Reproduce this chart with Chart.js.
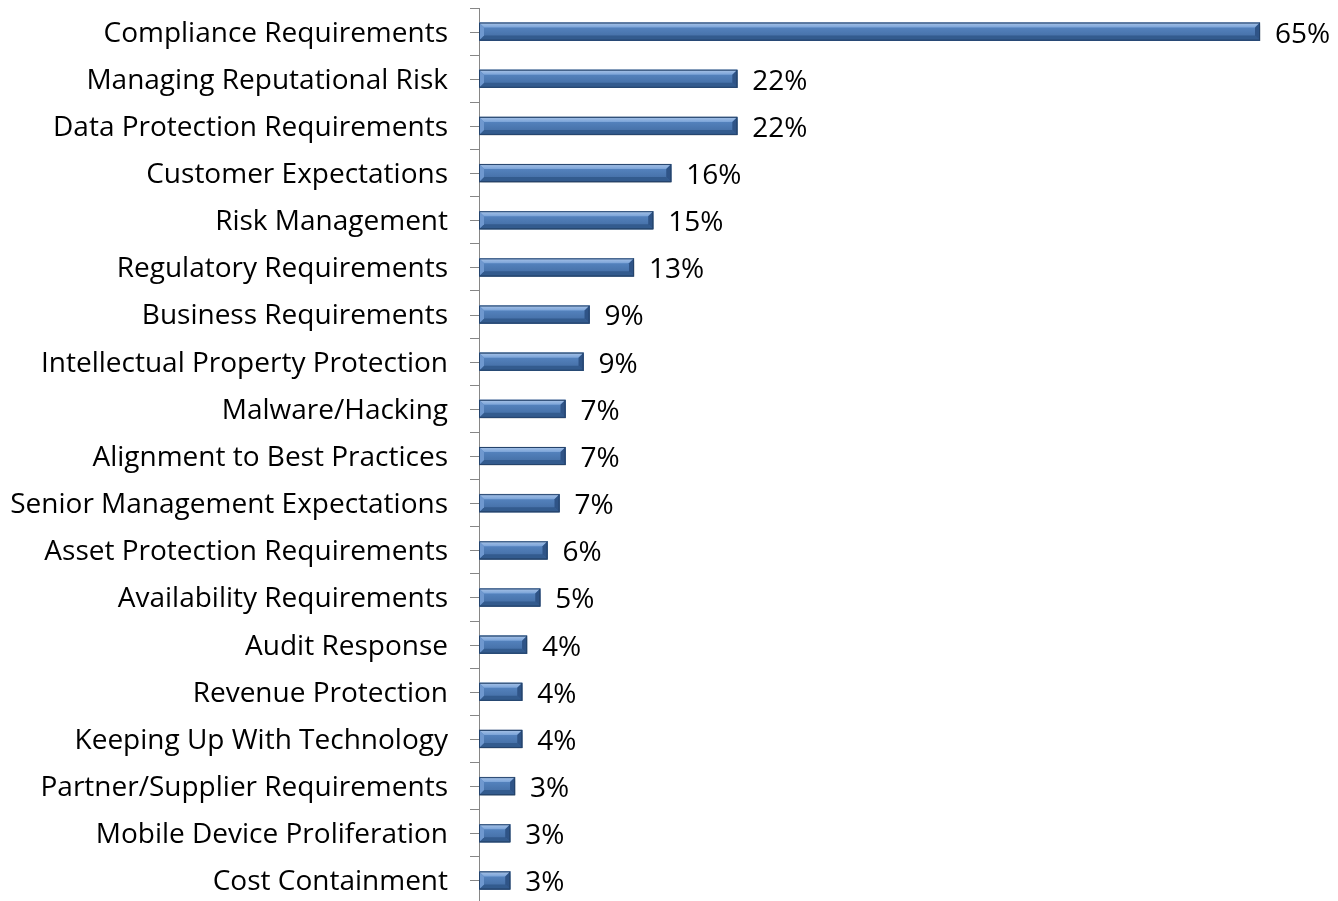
<!DOCTYPE html>
<html>
<head>
<meta charset="utf-8">
<title>Drivers</title>
<script src="https://cdn.jsdelivr.net/npm/chart.js@4.4.1/dist/chart.umd.min.js"></script>
<style>
    html, body { margin: 0; padding: 0; background: #fff; overflow: hidden; }
    canvas { display: block; }
</style>
</head>
<body>
<canvas id="driverChart" width="1338" height="904"></canvas>
<script>
// Categories, top to bottom
const categories = [
    'Compliance Requirements',
    'Managing Reputational Risk',
    'Data Protection Requirements',
    'Customer Expectations',
    'Risk Management',
    'Regulatory Requirements',
    'Business Requirements',
    'Intellectual Property Protection',
    'Malware/Hacking',
    'Alignment to Best Practices',
    'Senior Management Expectations',
    'Asset Protection Requirements',
    'Availability Requirements',
    'Audit Response',
    'Revenue Protection',
    'Keeping Up With Technology',
    'Partner/Supplier Requirements',
    'Mobile Device Proliferation',
    'Cost Containment'
];

// Percent values
const percents = [65, 21.5, 21.5, 16, 14.5, 12.9, 9.2, 8.7, 7.2, 7.2, 6.7, 5.7, 5.1, 4.0, 3.6, 3.6, 3.0, 2.6, 2.6];

const labelFont = { family: 'Open Sans', size: 28 };

// Draws ticks at the category centres as well as the boundaries
const centerTicks = {
    id: 'centerTicks',
    afterDraw(chart) {
        const ctx = chart.ctx;
        const yScale = chart.scales.y;
        const x = chart.chartArea.left;
        ctx.save();
        ctx.strokeStyle = '#868686';
        ctx.lineWidth = 1;
        for (let i = 0; i < categories.length; i++) {
            const y = Math.round(yScale.getPixelForTick(i)) + 0.5;
            ctx.beginPath();
            ctx.moveTo(x - 9, y);
            ctx.lineTo(x, y);
            ctx.stroke();
        }
        ctx.restore();
    }
};

// Shadow under the bars
const barShadow = {
    id: 'barShadow',
    beforeDatasetDraw(chart) {
        const ctx = chart.ctx;
        ctx.save();
        ctx.shadowColor = 'rgba(0,0,0,0.35)';
        ctx.shadowBlur = 4;
        ctx.shadowOffsetX = 1;
        ctx.shadowOffsetY = 3;
    },
    afterDatasetDraw(chart) {
        chart.ctx.restore();
    }
};

// Bevel look on the bars and value labels
const bevelAndLabels = {
    id: 'bevelAndLabels',
    afterDatasetsDraw(chart) {
        const ctx = chart.ctx;
        const meta = chart.getDatasetMeta(0);
        ctx.save();
        meta.data.forEach((bar, i) => {
            const p = bar.getProps(['x', 'y', 'base', 'height'], true);
            const left = p.base;
            const right = p.x;
            const top = p.y - p.height / 2;
            const bottom = p.y + p.height / 2;
            const b = 5;

            // middle face
            const g = ctx.createLinearGradient(0, top, 0, bottom);
            g.addColorStop(0, '#5b8bc8');
            g.addColorStop(1, '#40699f');
            ctx.fillStyle = g;
            ctx.fillRect(left, top, right - left, bottom - top);

            // top bevel
            const gt = ctx.createLinearGradient(0, top, 0, top + b);
            gt.addColorStop(0, '#a9c4e8');
            gt.addColorStop(1, '#7aa3d8');
            ctx.fillStyle = gt;
            ctx.beginPath();
            ctx.moveTo(left, top);
            ctx.lineTo(right, top);
            ctx.lineTo(right - b, top + b);
            ctx.lineTo(left + b, top + b);
            ctx.closePath();
            ctx.fill();

            // bottom bevel
            ctx.fillStyle = '#335b8e';
            ctx.beginPath();
            ctx.moveTo(left, bottom);
            ctx.lineTo(right, bottom);
            ctx.lineTo(right - b, bottom - b);
            ctx.lineTo(left + b, bottom - b);
            ctx.closePath();
            ctx.fill();

            // right bevel
            ctx.fillStyle = '#2f5487';
            ctx.beginPath();
            ctx.moveTo(right, top);
            ctx.lineTo(right, bottom);
            ctx.lineTo(right - b, bottom - b);
            ctx.lineTo(right - b, top + b);
            ctx.closePath();
            ctx.fill();

            // left bevel
            ctx.fillStyle = '#6f98cf';
            ctx.beginPath();
            ctx.moveTo(left, top);
            ctx.lineTo(left, bottom);
            ctx.lineTo(left + b, bottom - b);
            ctx.lineTo(left + b, top + b);
            ctx.closePath();
            ctx.fill();

            // outline
            ctx.strokeStyle = '#24436b';
            ctx.lineWidth = 1;
            ctx.strokeRect(left + 0.5, top + 0.5, right - left - 1, bottom - top - 1);

            // value label
            ctx.fillStyle = '#000';
            ctx.font = labelFont.size + 'px "' + labelFont.family + '"';
            ctx.textAlign = 'left';
            ctx.textBaseline = 'middle';
            ctx.fillText(Math.round(percents[i]) + '%', right + 15, p.y + 3);
        });
        ctx.restore();
    }
};

const ctx = document.getElementById('driverChart').getContext('2d');
const chart = new Chart(ctx, {
    type: 'bar',
    data: {
        labels: categories,
        datasets: [{
            data: percents,
            backgroundColor: '#4a78b4',
            borderColor: '#24436b',
            borderWidth: 1,
            barThickness: 18,
            clip: false
        }]
    },
    options: {
        indexAxis: 'y',
        responsive: false,
        animation: false,
        layout: { padding: { top: 8, right: 78, bottom: 0, left: 0 } },
        plugins: {
            legend: { display: false },
            tooltip: { enabled: false }
        },
        scales: {
            x: {
                display: false,
                min: 0,
                max: 65
            },
            y: {
                offset: true,
                grid: {
                    display: true,
                    offset: true,
                    drawOnChartArea: false,
                    drawTicks: true,
                    tickLength: 9,
                    color: '#868686'
                },
                border: { display: true, color: '#868686', width: 1 },
                ticks: {
                    color: '#000',
                    font: labelFont,
                    padding: 22,
                    labelOffset: 2,
                    autoSkip: false
                },
                afterFit(scale) {
                    scale.width = 479;
                    scale.paddingTop = 0;
                    scale.paddingBottom = 0;
                }
            }
        }
    },
    plugins: [barShadow, bevelAndLabels, centerTicks]
});
</script>
</body>
</html>
